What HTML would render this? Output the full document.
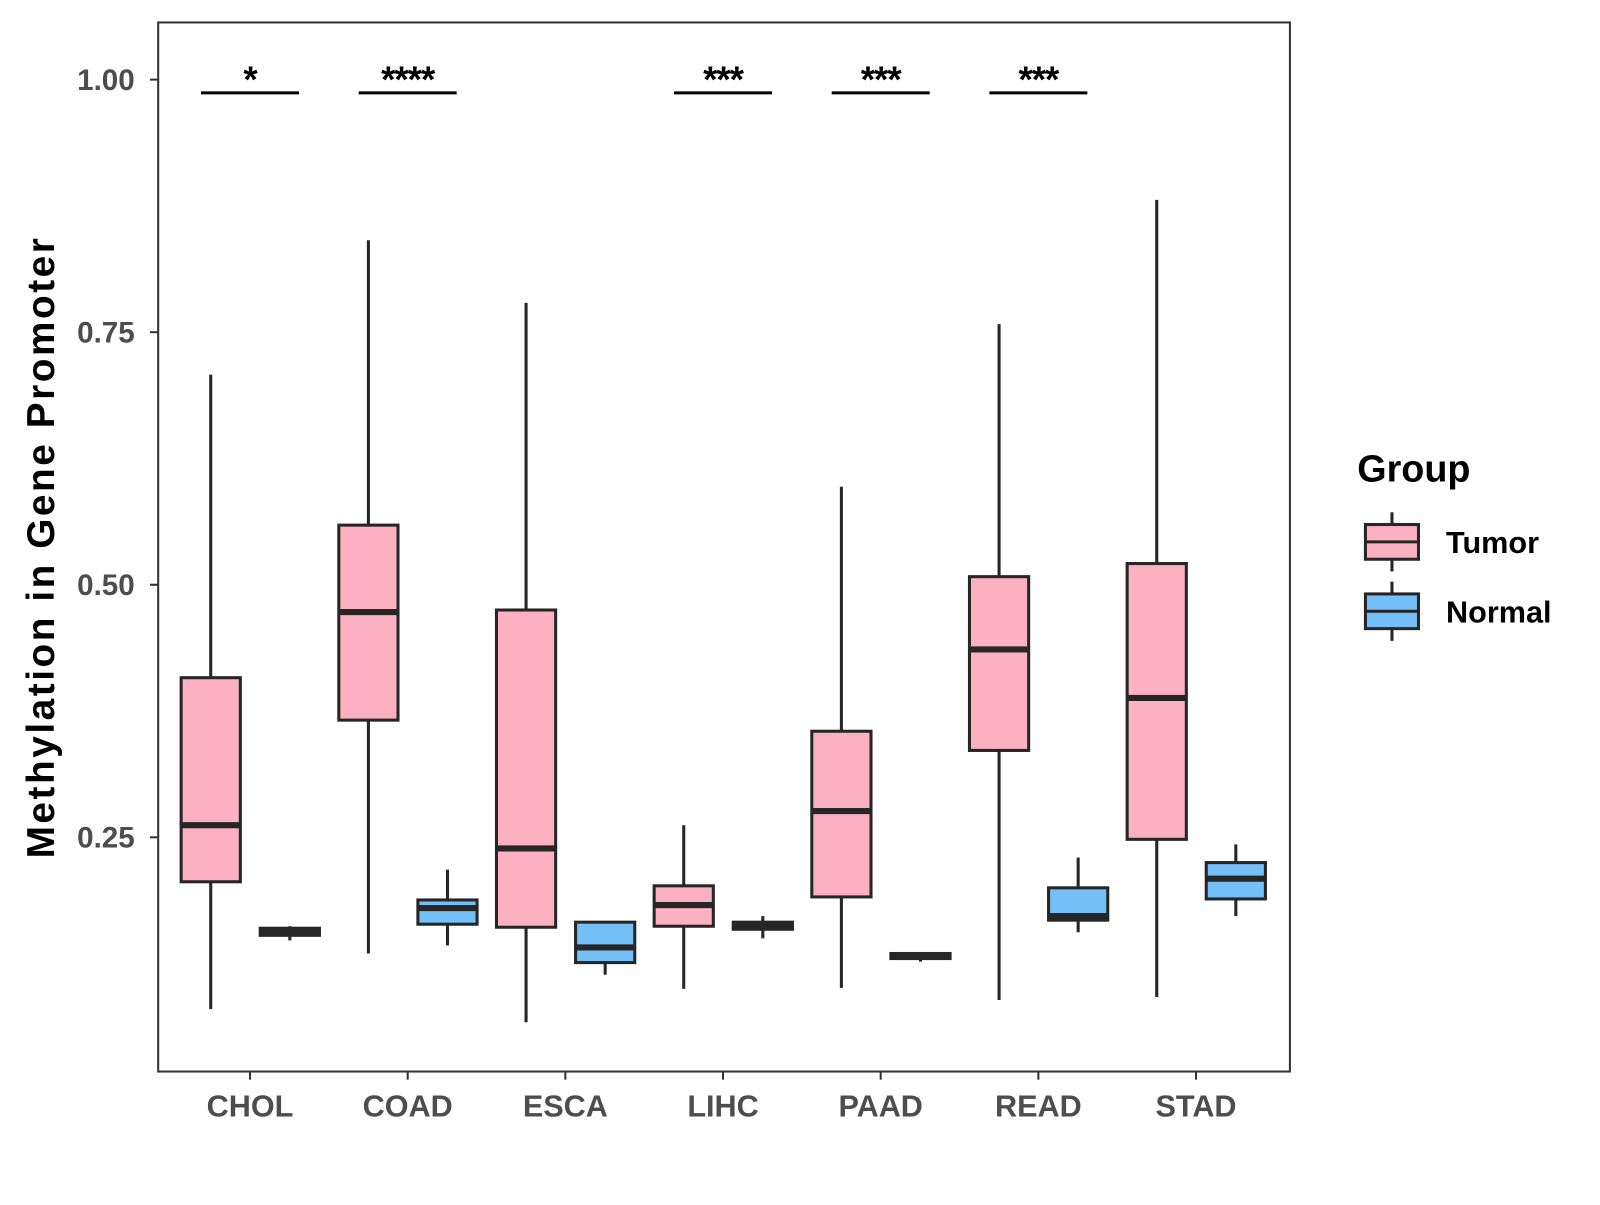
<!DOCTYPE html>
<html><head><meta charset="utf-8"><style>
body{margin:0;background:#fff}
text{font-family:"Liberation Sans",Arial,sans-serif}
</style></head><body>
<svg id="chart" width="1600" height="1200" xmlns="http://www.w3.org/2000/svg">
<rect width="1600" height="1200" fill="#fff"/>
<g id="plot" transform="scale(1.0205)"></g>
</svg>
<script>
const categories=["CHOL","COAD","ESCA","LIHC","PAAD","READ","STAD"];
// [low, q1, median, q3, high]
const tumorStats=[[0.080,0.206,0.262,0.408,0.708],[0.135,0.366,0.473,0.559,0.841],[0.067,0.161,0.239,0.475,0.779],[0.100,0.162,0.183,0.202,0.262],[0.101,0.191,0.276,0.355,0.597],[0.089,0.336,0.436,0.508,0.758],[0.092,0.248,0.388,0.521,0.881]];
const normalStats=[[0.148,0.153,0.156,0.160,0.162],[0.143,0.164,0.180,0.188,0.218],[0.114,0.126,0.141,0.166,0.167],[0.150,0.159,0.163,0.166,0.172],[0.127,0.130,0.133,0.135,0.136],[0.156,0.168,0.172,0.200,0.230],[0.172,0.189,0.209,0.225,0.243]];
const significance=["*","****","","***","***","***",""];
const yTicks=[0.25,0.5,0.75,1.0];
const yTickLabels=["0.25","0.50","0.75","1.00"];

const NS="http://www.w3.org/2000/svg";
const g=document.getElementById('plot');
const y=v=>78+(1-v)*990;
const x=i=>245+i*154.5;
function mk(tag,attrs,parent){const e=document.createElementNS(NS,tag);for(const k in attrs)e.setAttribute(k,attrs[k]);(parent||g).appendChild(e);return e;}

const panel=mk('rect',{x:155,y:22,width:1109,height:1028,fill:'none',stroke:'#333','stroke-width':2});



yTicks.forEach((t,i)=>{
  const tk=mk('line',{x1:147,x2:155,y1:y(t),y2:y(t),stroke:'#333','stroke-width':2});
  
  
  const tl=mk('text',{x:132,y:y(t)+10,'text-anchor':'end','font-size':29,'font-weight':'bold',fill:'#4d4d4d'});
  tl.textContent=yTickLabels[i];
  
  
});

function box(s,cx,fill,name){
  const grp=mk('g',{});
  
  
  const w=58,c='#262626';
  mk('line',{x1:cx,x2:cx,y1:y(s[4]),y2:y(s[3]),stroke:c,'stroke-width':3},grp);
  mk('line',{x1:cx,x2:cx,y1:y(s[1]),y2:y(s[0]),stroke:c,'stroke-width':3},grp);
  mk('rect',{x:cx-w/2,y:y(s[3]),width:w,height:Math.max(y(s[1])-y(s[3]),1),fill:fill,stroke:c,'stroke-width':3},grp);
  mk('line',{x1:cx-w/2,x2:cx+w/2,y1:y(s[2]),y2:y(s[2]),stroke:c,'stroke-width':6},grp);
}

categories.forEach((cat,i)=>{
  const cx=x(i);
  box(tumorStats[i],cx-38.5,'#FCB0C2','box-tumor-'+cat.toLowerCase());
  box(normalStats[i],cx+39,'#74BFF7','box-normal-'+cat.toLowerCase());
  const tk=mk('line',{x1:cx,x2:cx,y1:1050,y2:1058,stroke:'#333','stroke-width':2});
  
  
  const tl=mk('text',{x:cx,y:1094,'text-anchor':'middle','font-size':30,'font-weight':'bold',fill:'#4d4d4d'});
  tl.textContent=cat;
  
  
  if(significance[i]){
    const ln=mk('line',{x1:cx-48,x2:cx+48,y1:91,y2:91,stroke:'#000','stroke-width':3});
    
    
    const st=mk('text',{x:cx,y:90,'text-anchor':'middle','font-size':36,'font-weight':'bold',fill:'#000','letter-spacing':-1});
    st.textContent=significance[i];
    
    
  }
});

const yt=mk('text',{x:0,y:0,transform:'translate(53,536) rotate(-90)','text-anchor':'middle','font-size':38,'font-weight':'bold',fill:'#000','letter-spacing':2.5});
yt.textContent='Methylation in Gene Promoter';



const lg=mk('g',{});


const lt=mk('text',{x:1330,y:472,'font-size':37,'font-weight':'bold',fill:'#000'},lg);
lt.textContent='Group';


[['Tumor','#FCB0C2',531],['Normal','#74BFF7',599]].forEach(([lab,col,cy])=>{
  const e=mk('g',{},lg);
  
  
  mk('line',{x1:1364,x2:1364,y1:cy-29,y2:cy+29,stroke:'#262626','stroke-width':3},e);
  mk('rect',{x:1338,y:cy-17,width:52,height:34,fill:col,stroke:'#262626','stroke-width':3},e);
  mk('line',{x1:1338,x2:1390,y1:cy,y2:cy,stroke:'#262626','stroke-width':3},e);
  const t=mk('text',{x:1417,y:cy+11,'font-size':30,'font-weight':'bold',fill:'#000'},e);
  t.textContent=lab;
});
</script>
</body></html>
